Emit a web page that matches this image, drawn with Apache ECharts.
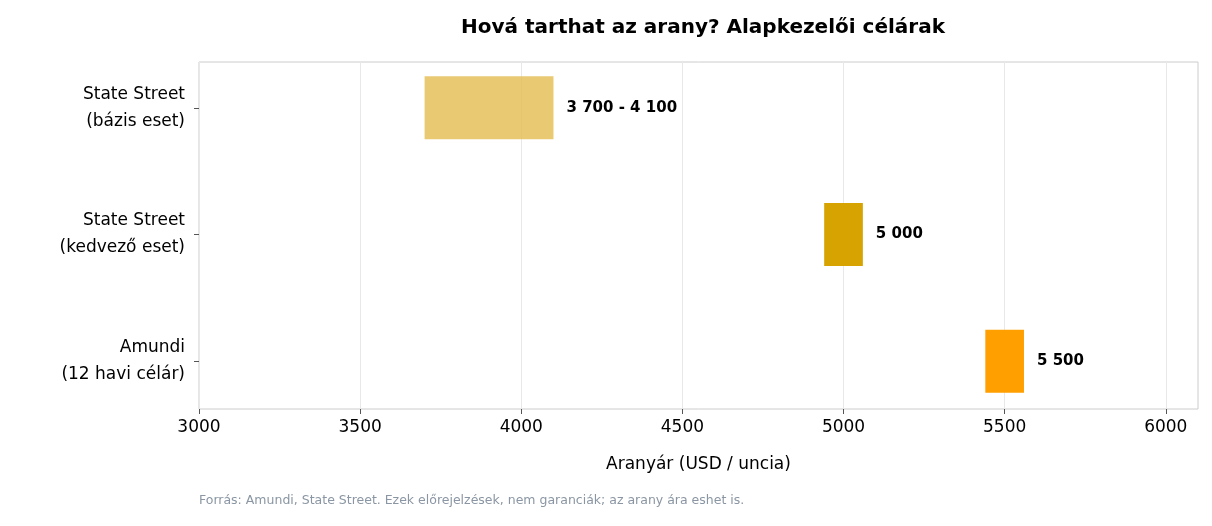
<!DOCTYPE html>
<html><head><meta charset="utf-8">
<script src="https://cdn.jsdelivr.net/npm/echarts@6/dist/echarts.min.js"></script>
<style>html,body{margin:0;padding:0;background:#fff}#c{width:1212px;height:526px}</style>
</head><body><div id="c"></div>
<script>
const categories = ["State Street\n(bázis eset)", "State Street\n(kedvező eset)", "Amundi\n(12 havi célár)"];
const lowValues = [3700, 4940, 5440];
const highValues = [4100, 5060, 5560];
const labels = ["3 700 - 4 100", "5 000", "5 500"];
const colors = ["rgba(228,189,80,0.8)", "#D6A300", "#FF9F00"];
const F = "'DejaVu Sans', sans-serif";
const chart = echarts.init(document.getElementById('c'));
chart.setOption({
  animation:false,
  title:{text:"Hová tarthat az arany? Alapkezelői célárak",left:698,top:13,textAlign:'center',
    textStyle:{fontFamily:F,fontSize:20,fontWeight:'bold',color:'#000'}},
  graphic:[{type:'text',left:199,top:494,style:{text:"Forrás: Amundi, State Street. Ezek előrejelzések, nem garanciák; az arany ára eshet is.",
    fontFamily:F,fontSize:12.5,fill:'#8a96a3'}}],
  grid:[
    {left:199,right:14,top:62,bottom:117,show:true,borderColor:'#cccccc',borderWidth:1},
    {left:199,right:14,top:44.5,bottom:101.5}
  ],
  xAxis:[
    {gridIndex:0,type:'value',min:3000,max:6100,interval:500,
    name:"Aranyár (USD / uncia)",nameLocation:'middle',nameGap:47,
    nameTextStyle:{fontFamily:F,fontSize:17,color:'#000'},
    axisLabel:{fontFamily:F,fontSize:17,color:'#000',margin:10,formatter:v=>v>6000?'':v},
    axisLine:{show:false},axisTick:{show:true,length:5,lineStyle:{color:'#555'},
      customValues:[3000,3500,4000,4500,5000,5500,6000]},
    splitLine:{show:true,lineStyle:{color:'#e8e8e8'}}},
    {gridIndex:1,type:'value',min:3000,max:6100,show:false}
  ],
  yAxis:[
    {gridIndex:0,type:'value',show:false,min:0,max:1},
    {gridIndex:1,type:'category',inverse:true,data:categories,
    axisLabel:{fontFamily:F,fontSize:17,color:'#000',lineHeight:27,align:'right',margin:14},
    axisLine:{show:false},axisTick:{show:true,alignWithLabel:true,length:5,lineStyle:{color:'#555'}}}
  ],
  series:[
    {type:'bar',xAxisIndex:1,yAxisIndex:1,stack:'s',data:lowValues,itemStyle:{color:'transparent'},barWidth:63,silent:true},
    {type:'bar',xAxisIndex:1,yAxisIndex:1,stack:'s',barWidth:63,
      data:highValues.map((h,i)=>({value:h-lowValues[i],itemStyle:{color:colors[i]}})),
      label:{show:true,position:'right',distance:13,formatter:p=>labels[p.dataIndex],
        fontFamily:F,fontSize:15,fontWeight:'bold',color:'#000'}}
  ]
});
</script></body></html>
